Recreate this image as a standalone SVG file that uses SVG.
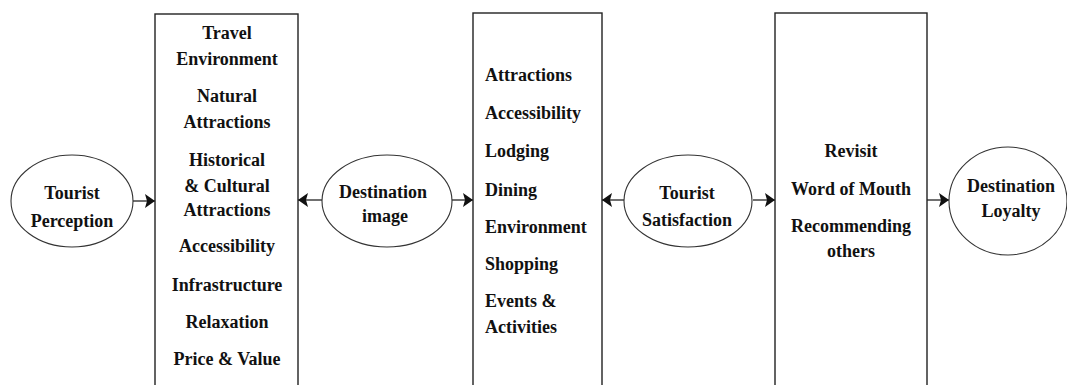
<svg xmlns="http://www.w3.org/2000/svg" width="1067" height="385" viewBox="0 0 1067 385">
<style>
.box{fill:#fff;stroke:#222;stroke-width:1.4}
.ell{fill:#fff;stroke:#333;stroke-width:1.1}
.t{font-family:"Liberation Serif","Times New Roman",serif;font-weight:bold;font-size:18px;fill:#111}
.c{text-anchor:middle}
.conn{stroke:#222;stroke-width:1.3;fill:none;marker-end:url(#ah)}
</style>
<defs>
<marker id="ah" markerUnits="userSpaceOnUse" markerWidth="11" markerHeight="16" refX="10" refY="8" orient="auto">
<path d="M0,1 L10,8 L0,15 L2,8 z" fill="#111"/>
</marker>
</defs>
<rect width="1067" height="385" fill="#fff"/>
<g id="connectors">
<line class="conn" x1="133" y1="201" x2="155" y2="201"/>
<line class="conn" x1="322" y1="200" x2="298" y2="200"/>
<line class="conn" x1="452" y1="200" x2="473" y2="200"/>
<line class="conn" x1="624" y1="200" x2="602" y2="200"/>
<line class="conn" x1="753" y1="200" x2="775" y2="200"/>
<line class="conn" x1="927" y1="200" x2="949" y2="200"/>
</g>
<g id="tourist-perception">
<ellipse class="ell" cx="72" cy="201" rx="61" ry="46"/>
<text class="t c" x="72" y="199">Tourist</text>
<text class="t c" x="72" y="227">Perception</text>
</g>
<g id="perception-attributes">
<rect class="box" x="155" y="14" width="143" height="380"/>
<text class="t c" x="227" y="39">Travel</text>
<text class="t c" x="227" y="65">Environment</text>
<text class="t c" x="227" y="102">Natural</text>
<text class="t c" x="227" y="128">Attractions</text>
<text class="t c" x="227" y="166">Historical</text>
<text class="t c" x="227" y="192">&amp; Cultural</text>
<text class="t c" x="227" y="216">Attractions</text>
<text class="t c" x="227" y="252">Accessibility</text>
<text class="t c" x="227" y="291">Infrastructure</text>
<text class="t c" x="227" y="328">Relaxation</text>
<text class="t c" x="227" y="365">Price &amp; Value</text>
</g>
<g id="destination-image">
<ellipse class="ell" cx="387" cy="201" rx="65" ry="46"/>
<text class="t c" x="383" y="198">Destination</text>
<text class="t c" x="385" y="222">image</text>
</g>
<g id="satisfaction-attributes">
<rect class="box" x="473" y="13" width="129" height="380"/>
<text class="t" x="485" y="81">Attractions</text>
<text class="t" x="485" y="119">Accessibility</text>
<text class="t" x="485" y="157">Lodging</text>
<text class="t" x="485" y="196">Dining</text>
<text class="t" x="485" y="233">Environment</text>
<text class="t" x="485" y="270">Shopping</text>
<text class="t" x="485" y="307">Events &amp;</text>
<text class="t" x="485" y="333">Activities</text>
</g>
<g id="tourist-satisfaction">
<ellipse class="ell" cx="688" cy="201" rx="64" ry="46"/>
<text class="t c" x="687" y="199">Tourist</text>
<text class="t c" x="687" y="226">Satisfaction</text>
</g>
<g id="loyalty-attributes">
<rect class="box" x="775" y="13" width="152" height="380"/>
<text class="t c" x="851" y="157">Revisit</text>
<text class="t c" x="851" y="195">Word of Mouth</text>
<text class="t c" x="851" y="232">Recommending</text>
<text class="t c" x="851" y="257">others</text>
</g>
<g id="destination-loyalty">
<ellipse class="ell" cx="1008" cy="201" rx="59" ry="54"/>
<text class="t c" x="1011" y="192">Destination</text>
<text class="t c" x="1011" y="217">Loyalty</text>
</g>
</svg>
